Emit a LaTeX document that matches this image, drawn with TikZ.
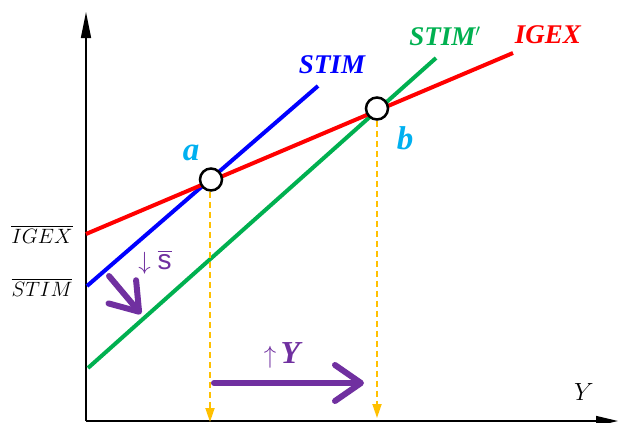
\documentclass[tikz,border=0pt]{standalone}
\usepackage{amsmath}
\usepackage{fontspec}
\newfontfamily\lblfont{Liberation Serif}
\newfontfamily\sfont{Liberation Sans}
\usetikzlibrary{arrows.meta}
\definecolor{cred}{RGB}{255,0,0}
\definecolor{cblue}{RGB}{0,0,255}
\definecolor{cgreen}{RGB}{0,176,80}
\definecolor{cpurple}{RGB}{112,48,160}
\definecolor{ccyan}{RGB}{0,176,240}
\definecolor{corange}{RGB}{255,192,0}
\begin{document}
\begin{tikzpicture}[x=1pt,y=-1pt,
  axis/.style={line width=1.5pt,black},
  curve/.style={line width=4pt},
  pt/.style={circle,draw=black,fill=white,line width=2.5pt,minimum size=22pt,inner sep=0pt},
  guide/.style={corange,line width=1.8pt,dash pattern=on 6pt off 4pt,-{Triangle[length=14pt,width=9pt]}},
  shiftarrow/.style={cpurple,line width=6pt,line cap=round,-{Straight Barb[length=26pt,width=36pt,line width=6pt,round]}},
  lbl/.style={font=\lblfont\fontsize{27}{30}\selectfont\bfseries\itshape,inner sep=0pt},
  lft/.style={font=\fontsize{20}{24}\selectfont,inner sep=0pt},
  pl/.style={font=\lblfont\fontsize{33}{36}\selectfont\bfseries\itshape,text=ccyan,inner sep=0pt}]
\useasboundingbox (0,0) rectangle (619,423);
% axes
\coordinate (o) at (86,421);
\coordinate (ytop) at (86,12);
\coordinate (xend) at (618,421);
\draw[axis,-{Triangle[length=26pt,width=10pt]}] (o) -- (ytop);
\draw[axis,-{Triangle[length=22pt,width=10pt]}] (o) -- (xend);
% curves
\coordinate (r0) at (86,234); \coordinate (r1) at (513,53);
\coordinate (s0) at (87,286); \coordinate (s1) at (318,86);
\coordinate (g0) at (88,368); \coordinate (g1) at (436,58);
\draw[curve,cgreen] (g0) -- (g1);
\draw[curve,cblue] (s0) -- (s1);
\draw[curve,cred] (r0) -- (r1);
% equilibrium points
\node[pt] (a) at (211,179.5) {};
\node[pt] (b) at (377,108.5) {};
\coordinate (ad) at (210,422);
\coordinate (bd) at (377,418);
\draw[guide] (a.south -| ad) -- (ad);
\draw[guide] (b.south) -- (b.south |- bd);
% shift arrows
\coordinate (p0) at (109,276); \coordinate (p1) at (141,314);
\draw[shiftarrow] (p0) -- (p1);
\coordinate (q0) at (214,383); \coordinate (q1) at (364,383);
\draw[shiftarrow] (q0) -- (q1);
% labels
\node[lbl,text=cblue] (lstim) at (332,65) {STIM};
\node[lbl,text=cgreen] (lstim2) at (445,36) {STIM$'$};
\node[lbl,text=cred] (ligex) at (548,35) {IGEX};
\node[pl] (la) at (191,153) {a};
\node[pl] (lb) at (405,138) {b};
\node[lft] (ligexbar) at (42,234) {$\overline{IGEX}$};
\node[lft] (lstimbar) at (42,287) {$\overline{STIM}$};
\node[font=\fontsize{24}{28}\selectfont,text=cpurple,inner sep=0pt] (ls) at (155,262) {$\downarrow\overline{\text{\sfont\fontsize{28}{30}\selectfont s}}$};
\node[font=\fontsize{26}{30}\selectfont,text=cpurple,inner sep=0pt] (ly) at (282,355) {$\uparrow$\,{\lblfont\fontsize{32}{34}\selectfont\bfseries\itshape Y}};
\node[font=\fontsize{30}{34}\selectfont,inner sep=0pt] (lY) at (584,392) {$Y$};
\end{tikzpicture}
\end{document}
